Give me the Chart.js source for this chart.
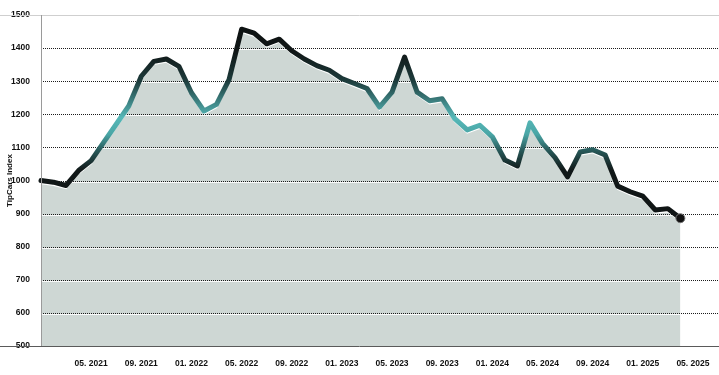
<!DOCTYPE html>
<html>
<head>
<meta charset="utf-8">
<script src="https://cdn.jsdelivr.net/npm/chart.js@4"></script>
<style>
  html, body { margin: 0; padding: 0; background: #fff; }
  #wrap { width: 719px; height: 375px; position: relative; }
</style>
</head>
<body>
<div id="wrap"><canvas id="indexChart"></canvas></div>
<script>
// months on the x axis (data runs 01. 2021 - 04. 2025, the axis goes a bit further)
const months = [
    '01. 2021', '02. 2021', '03. 2021', '04. 2021', '05. 2021', '06. 2021', '07. 2021', '08. 2021', '09. 2021', '10. 2021', '11. 2021', '12. 2021',
    '01. 2022', '02. 2022', '03. 2022', '04. 2022', '05. 2022', '06. 2022', '07. 2022', '08. 2022', '09. 2022', '10. 2022', '11. 2022', '12. 2022',
    '01. 2023', '02. 2023', '03. 2023', '04. 2023', '05. 2023', '06. 2023', '07. 2023', '08. 2023', '09. 2023', '10. 2023', '11. 2023', '12. 2023',
    '01. 2024', '02. 2024', '03. 2024', '04. 2024', '05. 2024', '06. 2024', '07. 2024', '08. 2024', '09. 2024', '10. 2024', '11. 2024', '12. 2024',
    '01. 2025', '02. 2025', '03. 2025', '04. 2025', '05. 2025', '06. 2025', '07. 2025'
];

// labels that are actually written under the axis
const tickLabels = [
    '05. 2021', '09. 2021', '01. 2022', '05. 2022', '09. 2022', '01. 2023', '05. 2023',
    '09. 2023', '01. 2024', '05. 2024', '09. 2024', '01. 2025', '05. 2025'
];

// TipCars index, one value per month
const indexValues = [
    1000, 995, 985, 1030, 1060, 1115, 1170, 1225, 1315, 1360, 1367, 1345,
    1265, 1210, 1230, 1305, 1457, 1445, 1413, 1427, 1392, 1367, 1347, 1333,
    1308, 1293, 1278, 1222, 1267, 1373, 1267, 1241, 1247, 1187, 1153, 1167,
    1132, 1062, 1044, 1174, 1112, 1069, 1011, 1086, 1093, 1077, 983, 966,
    953, 911, 915, 886
];

const yMin = 500;
const yMax = 1500;
const yStep = 100;

const fontFamily = "'Liberation Sans', Arial, sans-serif";

// couleur de la ligne : noir en haut et en bas, turquoise vers 1150-1250
function lineGradient(context) {
    const chart = context.chart;
    const area = chart.chartArea;
    if (!area) return '#111';
    const y = chart.scales.y;
    const top = y.getPixelForValue(yMax);
    const bottom = y.getPixelForValue(yMin);
    const g = chart.ctx.createLinearGradient(0, top, 0, bottom);
    const pos = v => (yMax - v) / (yMax - yMin);
    g.addColorStop(0, '#0c1010');
    g.addColorStop(pos(1390), '#101616');
    g.addColorStop(pos(1300), '#1d3c3c');
    g.addColorStop(pos(1190), '#56b8b8');
    g.addColorStop(pos(1140), '#4aa6a6');
    g.addColorStop(pos(1090), '#275858');
    g.addColorStop(pos(1030), '#111818');
    g.addColorStop(1, '#0a0a0a');
    return g;
}

// plugin : décale la surface, dessine la grille par-dessus la surface, puis le cadre
const decorPlugin = {
    id: 'decor',
    beforeDatasetDraw(chart, args) {
        if (args.index !== 1) return;
        const a = chart.chartArea;
        const ctx = chart.ctx;
        ctx.save();
        ctx.beginPath();
        ctx.rect(a.left, a.top, a.right - a.left, a.bottom - a.top);
        ctx.clip();
        ctx.translate(0, 3);
    },
    afterDatasetDraw(chart, args) {
        if (args.index !== 1) return;
        const ctx = chart.ctx;
        ctx.restore();
        const a = chart.chartArea;
        const y = chart.scales.y;
        ctx.save();
        for (let v = yMin + yStep; v < yMax; v += yStep) {
            const py = Math.round(y.getPixelForValue(v));
            ctx.setLineDash([1, 1]);
            ctx.strokeStyle = '#1c1c1c';
            ctx.lineWidth = 1;
            ctx.beginPath();
            ctx.moveTo(a.left, py + 0.5);
            ctx.lineTo(a.right + 1, py + 0.5);
            ctx.stroke();
            ctx.setLineDash([]);
            ctx.strokeStyle = 'rgba(255,255,255,0.9)';
            ctx.beginPath();
            ctx.moveTo(a.left, py + 1.5);
            ctx.lineTo(a.right + 1, py + 1.5);
            ctx.stroke();
        }
        ctx.restore();
    },
    afterDraw(chart) {
        const ctx = chart.ctx;
        const a = chart.chartArea;
        ctx.save();
        ctx.lineWidth = 1;
        // haut
        ctx.strokeStyle = '#cfcfcf';
        ctx.beginPath();
        ctx.moveTo(0, a.top + 0.5);
        ctx.lineTo(chart.width, a.top + 0.5);
        ctx.stroke();
        // gauche
        ctx.strokeStyle = '#9a9a9a';
        ctx.beginPath();
        ctx.moveTo(a.left + 0.5, a.top);
        ctx.lineTo(a.left + 0.5, a.bottom);
        ctx.stroke();
        // bas
        ctx.strokeStyle = '#5a5a5a';
        ctx.beginPath();
        ctx.moveTo(0, a.bottom + 0.5);
        ctx.lineTo(chart.width, a.bottom + 0.5);
        ctx.stroke();
        ctx.restore();
    }
};

const ctx = document.getElementById('indexChart').getContext('2d');
const indexChart = new Chart(ctx, {
    type: 'line',
    data: {
        labels: months,
        datasets: [
            {
                label: 'TipCars Index',
                data: indexValues,
                borderColor: lineGradient,
                borderWidth: 5,
                tension: 0,
                fill: false,
                borderJoinStyle: 'round',
                borderCapStyle: 'round',
                pointRadius: c => (c.dataIndex === indexValues.length - 1 ? 4.5 : 0),
                pointBackgroundColor: '#111',
                pointBorderColor: '#777',
                pointBorderWidth: 1,
                clip: 8,
                order: 1
            },
            {
                label: 'area',
                data: indexValues,
                borderColor: 'rgba(255,255,255,0.95)',
                borderWidth: 1.5,
                backgroundColor: '#ced7d4',
                fill: 'start',
                tension: 0,
                pointRadius: 0,
                order: 2
            }
        ]
    },
    options: {
        responsive: true,
        maintainAspectRatio: false,
        animation: false,
        layout: {
            autoPadding: false,
            padding: { top: 15, right: 1, left: 0, bottom: 0 }
        },
        plugins: {
            legend: { display: false },
            title: { display: false },
            tooltip: { enabled: false }
        },
        scales: {
            x: {
                grid: { display: false },
                border: { display: false },
                afterFit: scale => {
                    scale.height = 29;
                    scale.paddingLeft = 0;
                    scale.paddingRight = 0;
                },
                ticks: {
                    autoSkip: false,
                    maxRotation: 0,
                    padding: 5,
                    color: '#111',
                    font: { family: fontFamily, size: 8.5, weight: 'bold' },
                    callback: function (value) {
                        const lbl = this.getLabelForValue(value);
                        return tickLabels.includes(lbl) ? lbl : '';
                    }
                }
            },
            y: {
                min: yMin,
                max: yMax,
                grid: { display: false },
                border: { display: false },
                afterFit: scale => { scale.width = 41; },
                title: {
                    display: true,
                    text: 'TipCars Index',
                    color: '#111',
                    padding: { top: 5, bottom: 0 },
                    font: { family: fontFamily, size: 8, weight: 'bold' }
                },
                ticks: {
                    stepSize: yStep,
                    padding: 3,
                    color: '#111',
                    font: { family: fontFamily, size: 8.5, weight: 'bold' },
                    callback: value => String(value)
                }
            }
        }
    },
    plugins: [decorPlugin]
});
</script>
</body>
</html>
